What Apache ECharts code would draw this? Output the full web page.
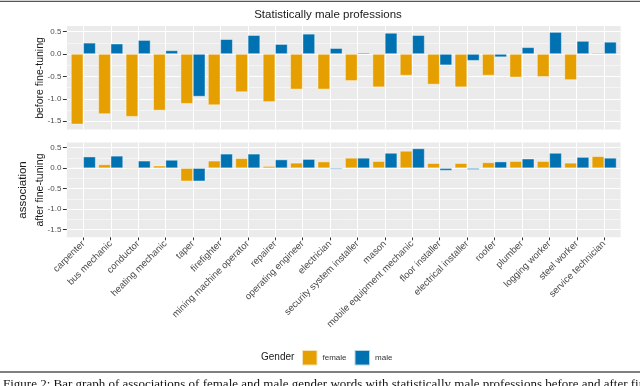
<!DOCTYPE html>
<html>
<head>
<meta charset="utf-8">
<script src="https://cdn.jsdelivr.net/npm/echarts@6/dist/echarts.min.js"></script>
<style>
  html, body { margin: 0; padding: 0; background: #fff; }
  #chart { width: 640px; height: 386px; }
</style>
</head>
<body>
<div id="chart"></div>
<script>
// professions on the x axis
const categories = [
  'carpenter', 'bus mechanic', 'conductor', 'heating mechanic', 'taper',
  'firefighter', 'mining machine operator', 'repairer', 'operating engineer',
  'electrician', 'security system installer', 'mason', 'mobile equipment mechanic',
  'floor installer', 'electrical installer', 'roofer', 'plumber',
  'logging worker', 'steel worker', 'service technician'
]
// before fine-tuning
const femaleBefore = [-1.57, -1.34, -1.40, -1.26, -1.11, -1.14, -0.85, -1.07, -0.79, -0.79,
  -0.60, -0.74, -0.48, -0.68, -0.74, -0.48, -0.52, -0.51, -0.58, 0.03]
const maleBefore = [0.25, 0.23, 0.31, 0.08, -0.95, 0.33, 0.42, 0.22, 0.45, 0.13,
  0.03, 0.47, 0.42, -0.25, -0.15, -0.07, 0.15, 0.49, 0.29, 0.27]
// after fine-tuning
const femaleAfter = [0.01, 0.09, -0.02, 0.06, -0.32, 0.18, 0.24, 0.05, 0.13, 0.16,
  0.25, 0.17, 0.42, 0.12, 0.12, 0.14, 0.17, 0.17, 0.13, 0.29]
const maleAfter = [0.28, 0.30, 0.18, 0.20, -0.32, 0.35, 0.35, 0.21, 0.22, -0.03,
  0.25, 0.37, 0.48, -0.06, -0.04, 0.16, 0.23, 0.37, 0.27, 0.25]
const yTicks = [-1.5, -1.0, -0.5, 0.0, 0.5]
const yMinor = [-1.25, -0.75, -0.25, 0.25]

const yMin = -1.685
const yMax = 0.625
const xMin = -0.6
const xMax = categories.length - 0.4
const colors = { female: '#E69F00', male: '#0072B2' }
const font = 'Liberation Sans, Arial, sans-serif'

const chart = echarts.init(document.getElementById('chart'), null, { renderer: 'canvas' })

// two panels: a background grid (with ggplot expansion) and a bar grid on top
const panels = [
  { top: 26, height: 103.5, female: femaleBefore, male: maleBefore, labels: false },
  { top: 142.5, height: 94.8, female: femaleAfter, male: maleAfter, labels: true }
]

const grid = []
const xAxis = []
const yAxis = []
const series = []

panels.forEach((p, i) => {
  const bg = i * 2
  const fg = i * 2 + 1
  grid.push({
    left: 66.9, right: 19.4, top: p.top, height: p.height,
    show: true, backgroundColor: '#EBEBEB', borderWidth: 0, outerBoundsMode: 'none'
  })
  grid.push({
    left: 69.6, right: 22.1, top: p.top, height: p.height,
    show: false, outerBoundsMode: 'none'
  })
  xAxis.push({
    type: 'value', gridIndex: bg, min: xMin, max: xMax, show: false,
    axisLine: { show: false, onZero: false }
  })
  xAxis.push({
    type: 'category', gridIndex: fg, data: categories,
    show: p.labels,
    position: 'bottom',
    axisLine: { show: false, onZero: false },
    axisTick: { show: true, alignWithLabel: true, length: 3, lineStyle: { color: '#333', width: 1 } },
    axisLabel: {
      interval: 0, rotate: 45, fontSize: 9.5, color: '#4D4D4D', margin: 5, fontFamily: font
    },
    splitLine: { show: false }
  })
  yAxis.push({
    type: 'value', gridIndex: bg, min: yMin, max: yMax,
    axisLine: { show: false, onZero: false },
    axisTick: { show: true, length: 4, customValues: yTicks, lineStyle: { color: '#333', width: 1 } },
    axisLabel: {
      fontSize: 8, color: '#4D4D4D', margin: 5.5, customValues: yTicks, fontFamily: font,
      formatter: v => v.toFixed(1)
    },
    splitLine: { show: false }
  })
  yAxis.push({
    type: 'value', gridIndex: fg, min: yMin, max: yMax, show: false,
    axisLine: { show: false, onZero: false }, splitLine: { show: false }
  })

  // white grid lines, as explicit segments in the background grid
  const lines = []
  categories.forEach((c, k) => lines.push([{ coord: [k, yMin] }, { coord: [k, yMax] }]))
  yTicks.forEach(v => lines.push([{ coord: [xMin, v] }, { coord: [xMax, v] }]))
  yMinor.forEach(v => lines.push([{ coord: [xMin, v], lineStyle: { width: 0.5 } }, { coord: [xMax, v] }]))
  series.push({
    type: 'line', xAxisIndex: bg, yAxisIndex: bg, data: [], z: 1, silent: true,
    markLine: {
      z: 1, silent: true, symbol: ['none', 'none'], label: { show: false },
      lineStyle: { color: '#FFFFFF', type: 'solid', width: 1 },
      emphasis: { disabled: true },
      data: lines
    }
  })

  ;['female', 'male'].forEach(g => {
    series.push({
      name: g, type: 'bar', xAxisIndex: fg, yAxisIndex: fg, z: 3,
      data: p[g],
      barGap: '0%', barCategoryGap: '10%',
      itemStyle: { color: colors[g], borderColor: 'rgba(255,255,255,0.7)', borderWidth: 0.6 }
    })
  })
})

chart.setOption({
  animation: false,
  textStyle: { fontFamily: font },
  grid: grid,
  xAxis: xAxis,
  yAxis: yAxis,
  legend: {
    data: ['female', 'male'],
    left: 301, top: 349, padding: 0,
    itemWidth: 15.5, itemHeight: 15.5, itemGap: 7,
    icon: 'rect',
    textStyle: { fontSize: 8, color: '#333', fontFamily: font },
    selectedMode: false
  },
  graphic: [
    { type: 'line', shape: { x1: 0, y1: 1.3, x2: 640, y2: 1.3 }, style: { stroke: '#555', lineWidth: 1.3 } },
    { type: 'line', shape: { x1: 0, y1: 372, x2: 640, y2: 372 }, style: { stroke: '#555', lineWidth: 1.3 } },
    {
      type: 'text', x: 328, y: 15,
      style: { text: 'Statistically male professions', fontSize: 11.5, fill: '#1A1A1A', fontFamily: font, align: 'center', verticalAlign: 'middle' }
    },
    {
      type: 'text', x: 40, y: 78, rotation: Math.PI / 2,
      style: { text: 'before fine-tuning', fontSize: 10.5, fill: '#1A1A1A', fontFamily: font, align: 'center', verticalAlign: 'middle' }
    },
    {
      type: 'text', x: 40, y: 190, rotation: Math.PI / 2,
      style: { text: 'after fine-tuning', fontSize: 10.5, fill: '#1A1A1A', fontFamily: font, align: 'center', verticalAlign: 'middle' }
    },
    {
      type: 'text', x: 23, y: 190, rotation: Math.PI / 2,
      style: { text: 'association', fontSize: 11.5, fill: '#1A1A1A', fontFamily: font, align: 'center', verticalAlign: 'middle' }
    },
    {
      type: 'text', x: 261, y: 357,
      style: { text: 'Gender', fontSize: 10, fill: '#1A1A1A', fontFamily: font, align: 'left', verticalAlign: 'middle' }
    },
    {
      type: 'text', x: 3, y: 378,
      style: {
        text: 'Figure 2: Bar graph of associations of female and male gender words with statistically male professions before and after fine-tuning.',
        fontSize: 13, fill: '#111', fontFamily: 'Liberation Serif, Times New Roman, serif', align: 'left', verticalAlign: 'top'
      }
    }
  ],
  series: series
})
</script>
</body>
</html>
